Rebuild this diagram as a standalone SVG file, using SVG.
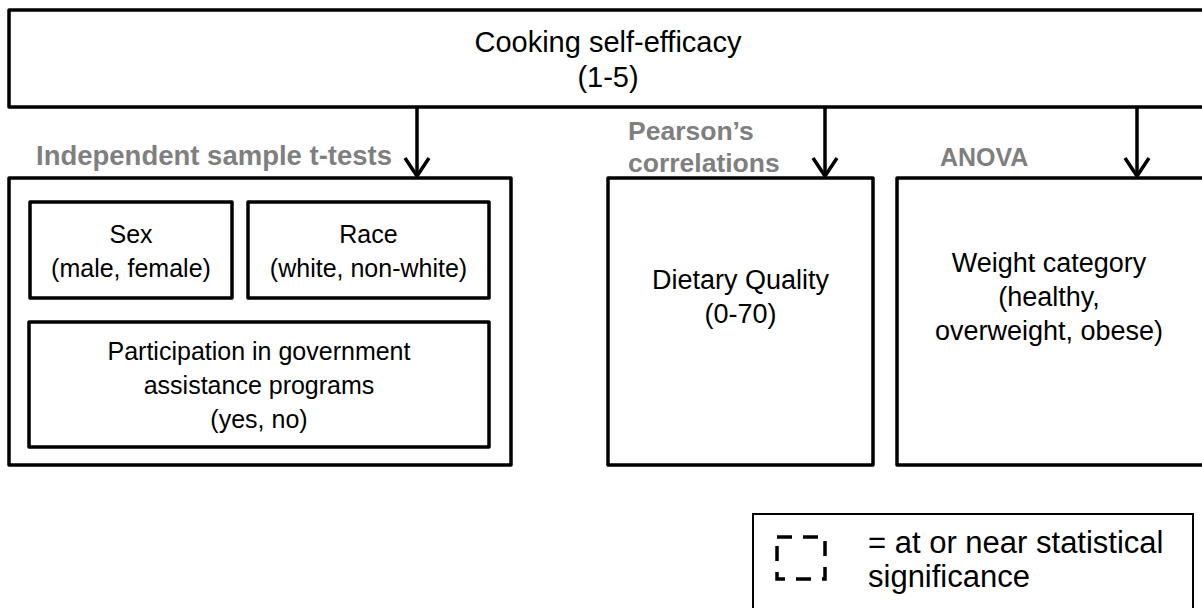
<svg xmlns="http://www.w3.org/2000/svg" width="1202" height="608" viewBox="0 0 1202 608">
<style>
.box{fill:#fff;stroke:#000;stroke-width:3.5;stroke-linejoin:round}
.t{font-family:"Liberation Sans",Arial,sans-serif;font-size:25px;fill:#000;text-anchor:middle}
.top{font-size:29px}
.big{font-size:27px}
.lab{font-family:"Liberation Sans",Arial,sans-serif;font-size:26.5px;font-weight:bold;fill:#7f7f7f}
.leg{font-family:"Liberation Sans",Arial,sans-serif;font-size:31px;fill:#000}
.conn{stroke:#000;stroke-width:3.5;fill:none;marker-end:url(#chev)}
</style>
<defs>
<marker id="chev" markerUnits="userSpaceOnUse" viewBox="-22 -16 26 32" markerWidth="26" markerHeight="32" refX="0" refY="0" orient="auto">
<path d="M-18,-12 L0,0 L-18,12" fill="none" stroke="#000" stroke-width="3.5" stroke-linejoin="miter"/>
</marker>
</defs>
<rect width="1202" height="608" fill="#fff"/>
<g id="cooking">
<rect class="box" x="9" y="10" width="1205" height="97"/>
<text class="t top" x="608" y="52">Cooking self-efficacy</text>
<text class="t top" x="608" y="87">(1-5)</text>
</g>
<g id="connectors">
<line class="conn" x1="417" y1="107" x2="417" y2="176"/>
<line class="conn" x1="825" y1="107" x2="825" y2="176"/>
<line class="conn" x1="1137" y1="107" x2="1137" y2="176"/>
</g>
<g id="label-ttests"><text class="lab" x="36" y="165" style="font-size:27.5px">Independent sample t-tests</text></g>
<g id="label-pearson"><text class="lab" x="628" y="140">Pearson’s</text><text class="lab" x="628" y="172">correlations</text></g>
<g id="label-anova"><text class="lab" x="940" y="166" style="font-size:25px">ANOVA</text></g>
<g id="ttests">
<rect class="box" x="9" y="178" width="502" height="287"/>
</g>
<g id="sex">
<rect class="box" x="30" y="202" width="202" height="96"/>
<text class="t" x="131" y="243">Sex</text>
<text class="t" x="131" y="277">(male, female)</text>
</g>
<g id="race">
<rect class="box" x="248" y="202" width="241" height="96"/>
<text class="t" x="368.5" y="243">Race</text>
<text class="t" x="368.5" y="277">(white, non-white)</text>
</g>
<g id="participation">
<rect class="box" x="29" y="322" width="460" height="125"/>
<text class="t" x="259" y="360">Participation in government</text>
<text class="t" x="259" y="394">assistance programs</text>
<text class="t" x="259" y="428">(yes, no)</text>
</g>
<g id="dietary">
<rect class="box" x="608" y="178" width="265" height="287"/>
<text class="t big" x="740.5" y="289">Dietary Quality</text>
<text class="t big" x="740.5" y="323">(0-70)</text>
</g>
<g id="weight">
<rect class="box" x="897" y="178" width="315" height="287"/>
<text class="t big" x="1049" y="272">Weight category</text>
<text class="t big" x="1049" y="306">(healthy,</text>
<text class="t big" x="1049" y="340">overweight, obese)</text>
</g>
<g id="legend">
<rect x="753" y="514" width="440" height="110" fill="#fff" stroke="#000" stroke-width="2"/>
<rect x="777" y="537" width="48" height="42" fill="none" stroke="#000" stroke-width="3.5" stroke-dasharray="15 11"/>
<text class="leg" x="868" y="553">= at or near statistical</text>
<text class="leg" x="868" y="587">significance</text>
</g>
</svg>
